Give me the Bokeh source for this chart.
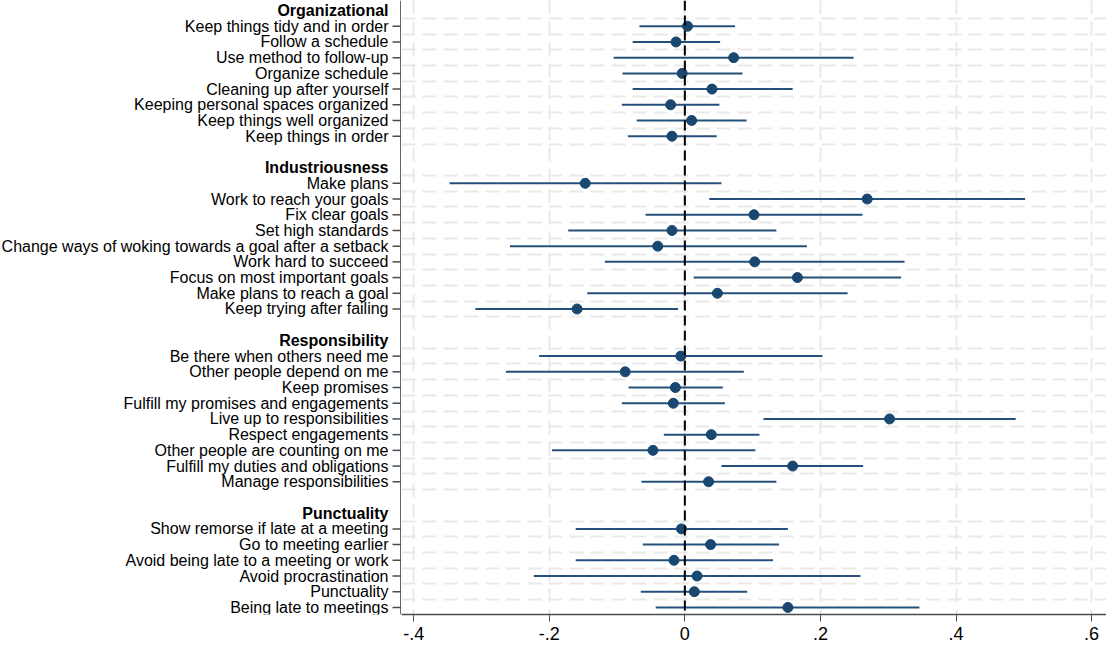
from bokeh.plotting import figure
from bokeh.models import Range1d, FixedTicker, Span, ColumnDataSource
from bokeh.core.properties import value
from bokeh.layouts import row
from bokeh.embed import file_html
from bokeh.resources import INLINE

# ---- data ----
groups = ["Organizational", "Industriousness", "Responsibility", "Punctuality"]

org_labels = ["Keep things tidy and in order", "Follow a schedule", "Use method to follow-up",
              "Organize schedule", "Cleaning up after yourself", "Keeping personal spaces organized",
              "Keep things well organized", "Keep things in order"]
org_est = [0.004, -0.013, 0.072, -0.004, 0.040, -0.021, 0.010, -0.019]
org_lo = [-0.067, -0.077, -0.105, -0.092, -0.077, -0.093, -0.071, -0.084]
org_hi = [0.074, 0.052, 0.249, 0.085, 0.159, 0.051, 0.091, 0.047]

ind_labels = ["Make plans", "Work to reach your goals", "Fix clear goals", "Set high standards",
              "Change ways of woking towards a goal after a setback", "Work hard to succeed",
              "Focus on most important goals", "Make plans to reach a goal", "Keep trying after failing"]
ind_est = [-0.147, 0.269, 0.102, -0.019, -0.040, 0.103, 0.166, 0.048, -0.159]
ind_lo = [-0.347, 0.036, -0.058, -0.172, -0.258, -0.118, 0.013, -0.144, -0.309]
ind_hi = [0.054, 0.502, 0.262, 0.135, 0.180, 0.324, 0.319, 0.240, -0.010]

res_labels = ["Be there when others need me", "Other people depend on me", "Keep promises",
              "Fulfill my promises and engagements", "Live up to responsibilities", "Respect engagements",
              "Other people are counting on me", "Fulfill my duties and obligations", "Manage responsibilities"]
res_est = [-0.006, -0.088, -0.014, -0.017, 0.302, 0.039, -0.047, 0.159, 0.035]
res_lo = [-0.215, -0.264, -0.083, -0.093, 0.116, -0.031, -0.196, 0.054, -0.064]
res_hi = [0.203, 0.087, 0.056, 0.059, 0.488, 0.110, 0.104, 0.263, 0.135]

pun_labels = ["Show remorse if late at a meeting", "Go to meeting earlier",
              "Avoid being late to a meeting or work", "Avoid procrastination", "Punctuality",
              "Being late to meetings"]
pun_est = [-0.005, 0.038, -0.016, 0.018, 0.014, 0.152]
pun_lo = [-0.161, -0.062, -0.161, -0.223, -0.065, -0.043]
pun_hi = [0.152, 0.139, 0.130, 0.259, 0.092, 0.346]

x_ticks = [-0.4, -0.2, 0.0, 0.2, 0.4, 0.6]
x_tick_labels = ["-.4", "-.2", "0", ".2", ".4", ".6"]

# ---- layout of rows ----
all_groups = [(groups[0], org_labels, org_est, org_lo, org_hi),
              (groups[1], ind_labels, ind_est, ind_lo, ind_hi),
              (groups[2], res_labels, res_est, res_lo, res_hi),
              (groups[3], pun_labels, pun_est, pun_lo, pun_hi)]

rows, labs, est, lo, hi = [], [], [], [], []
header_rows, header_names = [], []
grid_rows = []
cur = 0
for name, l, e, a, b in all_groups:
    header_rows.append(cur)
    header_names.append(name)
    n = len(l)
    for k in range(n):
        rows.append(cur + 1 + k)
    labs += l
    est += e
    lo += a
    hi += b
    grid_rows += [cur + 0.5 + k for k in range(n + 1)]
    cur += n + 2

last_row = rows[-1]
X_MIN, X_MAX = -0.418, 0.622
W, H = 1106, 652
LAB_W = 401          # width of the label / y-axis panel
TICK = 9             # y tick length (px)
GAP = 4              # gap between label and tick
BOT = 38

NAVY = "#1a476f"
LINE = "#24507b"
AXIS = "#4d4d4d"
FONT = "Liberation Sans"

yr = Range1d(last_row + 0.45, -0.64)

# ---- label panel, holding the y axis line, ticks and labels ----
lab = figure(width=LAB_W, height=H, output_backend="svg", toolbar_location=None,
             x_range=Range1d(0, LAB_W), y_range=yr, x_axis_location=None, y_axis_location=None,
             min_border_left=0, min_border_right=0, min_border_top=0, min_border_bottom=BOT)
lab.outline_line_color = None
lab.grid.visible = False
lab.add_layout(Span(location=LAB_W - 0.6, dimension="height", line_color=AXIS, line_width=1.5))
lab.segment(x0=[LAB_W - TICK] * len(rows), y0=rows, x1=[LAB_W] * len(rows), y1=rows,
            line_color=AXIS, line_width=1.5)
tx = LAB_W - TICK - GAP
lab.text(x=[tx] * len(rows), y=rows, text=labs, text_align="right", text_baseline="middle",
         text_font=value(FONT), text_font_size="16px", text_color="black")
lab.text(x=[tx] * len(header_rows), y=header_rows, text=header_names, text_align="right",
         text_baseline="middle", text_font=value(FONT), text_font_size="16px",
         text_font_style="bold", text_color="black")

# ---- coefficient plot ----
p = figure(width=W - LAB_W, height=H, output_backend="svg", toolbar_location=None,
           x_range=Range1d(X_MIN, X_MAX), y_range=yr, y_axis_location=None,
           min_border_left=0, min_border_right=0, min_border_top=0, min_border_bottom=BOT)
p.outline_line_color = None
p.background_fill_color = "white"

p.xgrid.ticker = FixedTicker(ticks=x_ticks)
p.xgrid.grid_line_color = "#e9e9e9"
p.xgrid.grid_line_width = 2
p.xgrid.grid_line_dash = "14 7"
p.ygrid.ticker = FixedTicker(ticks=grid_rows)
p.ygrid.grid_line_color = "#e9e9e9"
p.ygrid.grid_line_width = 2
p.ygrid.grid_line_dash = "14 7"

p.add_layout(Span(location=0, dimension="height", line_color="black", line_width=2, line_dash="10 5"))

src = ColumnDataSource(dict(y=rows, est=est, lo=lo, hi=hi))
p.segment(x0="lo", y0="y", x1="hi", y1="y", source=src, line_color=LINE, line_width=2)
p.scatter(x="est", y="y", source=src, size=10, fill_color=NAVY, line_color=NAVY)

p.xaxis.ticker = FixedTicker(ticks=x_ticks)
p.xaxis.major_label_overrides = {t: s for t, s in zip(x_ticks, x_tick_labels)}
p.xaxis.minor_tick_line_color = None
p.xaxis.major_tick_in = 0
p.xaxis.major_tick_out = 7
p.xaxis.major_label_text_font = FONT
p.xaxis.major_label_text_font_size = "18px"
p.xaxis.major_label_text_color = "black"
p.xaxis.major_label_standoff = 5
p.xaxis.axis_line_color = AXIS
p.xaxis.axis_line_width = 1.5
p.xaxis.major_tick_line_color = AXIS

layout = row(lab, p, spacing=0)
open("out.html", "w").write(file_html(layout, INLINE))
